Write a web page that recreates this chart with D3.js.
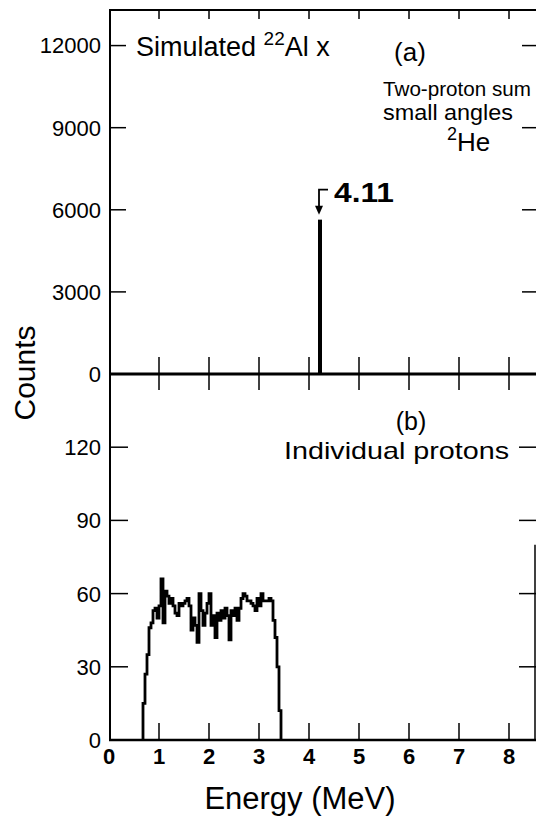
<!DOCTYPE html>
<html><head><meta charset="utf-8">
<script src="https://cdn.jsdelivr.net/npm/d3@7"></script>
<style>
html,body{margin:0;padding:0;background:#fff;}
svg{display:block;font-family:"Liberation Sans",Arial,Helvetica,sans-serif;}
</style></head>
<body>
<svg id="c" width="536" height="835"></svg>
<script>
// ---- data ----
const xTicks = [0,1,2,3,4,5,6,7,8];
const topYTicks = [0,3000,6000,9000,12000];
const botYTicks = [0,30,60,90,120];
// (a) two-proton sum peak
const peakEnergy = [4.22];
const peakCounts = [5640];
const peakLabel = "4.11";
// (b) individual protons histogram (bin start energies, MeV, width 0.04)
const binWidth = 0.04;
const protonBinStart = 0.68;
const protonCounts = [15,27,35,46,48,53,54,50,55,66,48,61,59,56,58,55,52,51,56,55,
  56,57,58,55,45,50,47,40,60,53,47,52,56,60,47,51,42,52,49,53,
  50,54,51,41,53,51,54,49,54,58,60,59,57,57,56,55,53,58,55,60,
  57,57,57,58,57,49,42,30,12];

// ---- layout ----
const svg = d3.select("#c");
const x = d3.scaleLinear().domain([0, 8.54]).range([109, 536]);
const yTop = d3.scaleLinear().domain([0, 13300]).range([374, 10]);
const yBot = d3.scaleLinear().domain([0, 150]).range([740, 374]);
const left = x(0), right = x.range()[1];

const g = svg.append("g").attr("stroke","#000").attr("fill","none");

// frame lines
g.append("line").attr("x1",left+1).attr("x2",left+1).attr("y1",yTop.range()[1]).attr("y2",yBot(0)).attr("stroke-width",2);
g.append("line").attr("x1",left).attr("x2",right).attr("y1",yTop.range()[1]).attr("y2",yTop.range()[1]).attr("stroke-width",2);
g.append("line").attr("x1",left).attr("x2",right).attr("y1",yTop(0)).attr("y2",yTop(0)).attr("stroke-width",3);
g.append("line").attr("x1",left).attr("x2",right).attr("y1",yBot(0)).attr("y2",yBot(0)).attr("stroke-width",2.5);
g.append("line").attr("x1",535).attr("x2",535).attr("y1",yBot(80)).attr("y2",yBot(0)).attr("stroke-width",1.5);

// x ticks
const xt = xTicks.filter(d=>d>0);
xt.forEach(d=>{
  g.append("line").attr("x1",x(d)).attr("x2",x(d)).attr("y1",yTop.range()[1]).attr("y2",yTop.range()[1]+9).attr("stroke-width",1.5);
  g.append("line").attr("x1",x(d)).attr("x2",x(d)).attr("y1",yTop(0)-17).attr("y2",yTop(0)+16).attr("stroke-width",1.5);
  g.append("line").attr("x1",x(d)).attr("x2",x(d)).attr("y1",yBot(0)).attr("y2",yBot(0)-17).attr("stroke-width",1.5);
});
// y ticks
topYTicks.filter(d=>d>0).forEach(d=>{
  g.append("line").attr("x1",left).attr("x2",left+17).attr("y1",yTop(d)).attr("y2",yTop(d)).attr("stroke-width",1.5);
  g.append("line").attr("x1",right).attr("x2",right-14).attr("y1",yTop(d)).attr("y2",yTop(d)).attr("stroke-width",1.5);
});
botYTicks.filter(d=>d>0).forEach(d=>{
  g.append("line").attr("x1",left).attr("x2",left+19).attr("y1",yBot(d)).attr("y2",yBot(d)).attr("stroke-width",1.5);
  g.append("line").attr("x1",right).attr("x2",right-17).attr("y1",yBot(d)).attr("y2",yBot(d)).attr("stroke-width",1.5);
});

// tick labels
const t = svg.append("g").attr("fill","#000");
topYTicks.forEach(d=>{
  t.append("text").attr("x",101).attr("y",yTop(d)).attr("dy","0.36em").attr("text-anchor","end").attr("font-size",22).text(d);
});
botYTicks.forEach(d=>{
  t.append("text").attr("x",101).attr("y",yBot(d)).attr("dy","0.36em").attr("text-anchor","end").attr("font-size",22).text(d);
});
xTicks.forEach(d=>{
  t.append("text").attr("x",x(d)).attr("y",764).attr("text-anchor","middle").attr("font-size",22).attr("font-weight","bold").text(d);
});

// (a) spike
g.selectAll(".pk").data(peakEnergy).enter().append("line")
  .attr("x1",d=>x(d)).attr("x2",d=>x(d)).attr("y1",yTop(0)).attr("y2",(d,i)=>yTop(peakCounts[i])).attr("stroke-width",4);
// arrow annotation
const ax = x(peakEnergy[0]) - 1, atip = yTop(peakCounts[0]) - 5;
g.append("path").attr("d",`M${ax+9},${atip-25}H${ax}V${atip-4}`).attr("stroke-width",1.8);
svg.append("path").attr("d",`M${ax-4},${atip-9}L${ax+4},${atip-9}L${ax},${atip}Z`).attr("fill","#000");
t.append("text").attr("x",ax+15).attr("y",atip-13).attr("font-size",27).attr("font-weight","bold")
  .attr("textLength",60).attr("lengthAdjust","spacingAndGlyphs").text(peakLabel);

// (b) histogram as step line
const pts = [[protonBinStart, 0]];
protonCounts.forEach((c,i)=>{
  const e0 = protonBinStart + i*binWidth;
  pts.push([e0, c]); pts.push([e0+binWidth, c]);
});
pts.push([protonBinStart + protonCounts.length*binWidth, 0]);
const line = d3.line().x(d=>x(d[0])).y(d=>yBot(d[1]));
g.append("path").attr("d",line(pts)).attr("stroke-width",2.8).attr("stroke-linejoin","miter");

// annotations
const s1 = t.append("text").attr("x",136).attr("y",56).attr("font-size",27);
s1.append("tspan").text("Simulated ");
s1.append("tspan").attr("font-size",19).attr("dy",-11).text("22");
s1.append("tspan").attr("dy",11).text("Al x");
t.append("text").attr("x",410).attr("y",61).attr("text-anchor","middle").attr("font-size",26).text("(a)");
t.append("text").attr("x",383).attr("y",96).attr("font-size",20.5).attr("textLength",148).attr("lengthAdjust","spacingAndGlyphs").text("Two-proton sum");
t.append("text").attr("x",383).attr("y",120).attr("font-size",22).attr("textLength",130).attr("lengthAdjust","spacingAndGlyphs").text("small angles");
const he = t.append("text").attr("x",447).attr("y",151).attr("font-size",26);
he.append("tspan").attr("font-size",18).attr("dy",-11).text("2");
he.append("tspan").attr("dy",11).text("He");
t.append("text").attr("x",411).attr("y",430).attr("text-anchor","middle").attr("font-size",25).text("(b)");
t.append("text").attr("x",284).attr("y",459).attr("font-size",24).attr("textLength",225).attr("lengthAdjust","spacingAndGlyphs").text("Individual protons");

// axis titles
t.append("text").attr("transform","translate(35,373) rotate(-90)").attr("text-anchor","middle").attr("font-size",30).text("Counts");
t.append("text").attr("x",300).attr("y",809).attr("text-anchor","middle").attr("font-size",31).text("Energy (MeV)");
</script>
</body></html>
